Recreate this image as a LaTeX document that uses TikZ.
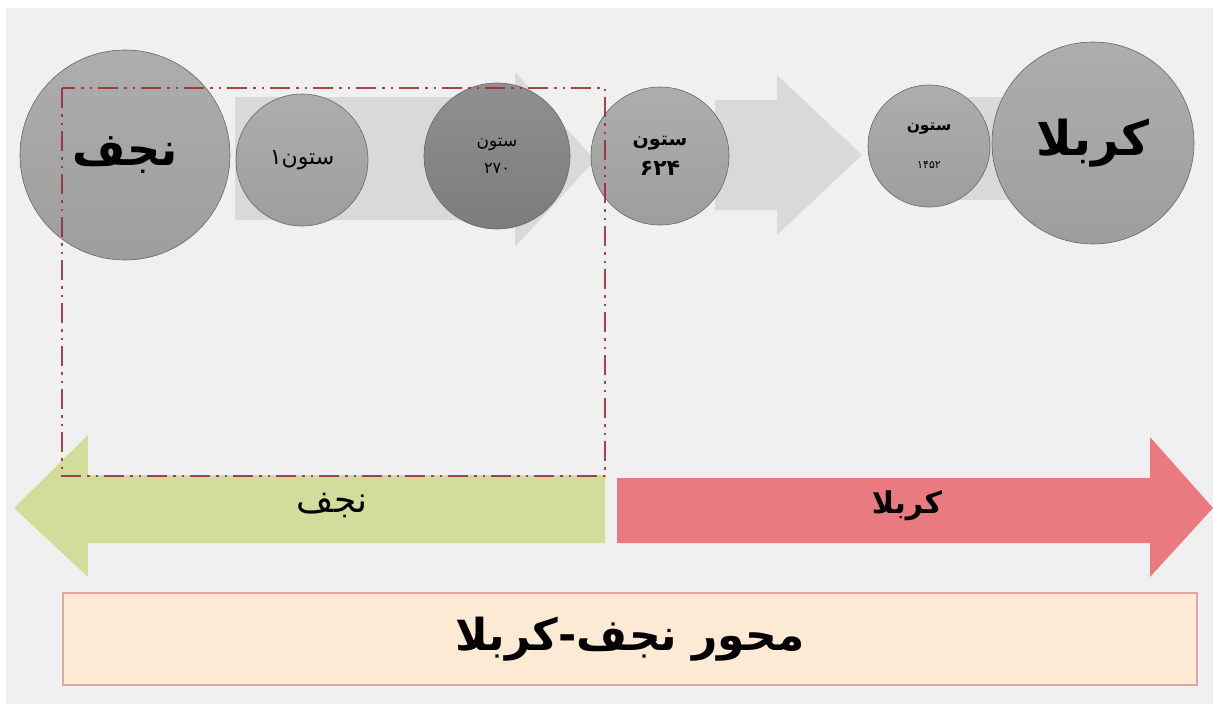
\documentclass[tikz,border=0pt]{standalone}
\usepackage{fontspec}
\newfontfamily\arabicfont[Script=Arabic]{DejaVu Sans}
\TeXXeTstate=1
\definecolor{bgc}{HTML}{F0F0F0}
\definecolor{flowc}{HTML}{D9D9D9}
\definecolor{ballc}{HTML}{A6A6A6}
\definecolor{balldark}{HTML}{8A8A8A}
\definecolor{greenc}{HTML}{D2DD9C}
\definecolor{redc}{HTML}{E97A80}
\definecolor{peach}{HTML}{FDEAD5}
\definecolor{peachline}{HTML}{E3A3A3}
\definecolor{dashc}{HTML}{9A2632}
\begin{document}
\begin{tikzpicture}[x=1pt,y=-1pt,
  bubble/.style={circle, draw=black!60, line width=0.6pt, inner sep=0pt,
    top color=ballc!92!white, bottom color=ballc!95!black, align=center,
    font=\arabicfont\bfseries},
  darkbubble/.style={bubble, top color=balldark!95!white, bottom color=balldark!90!black},
  flow/.style={fill=flowc, draw=none},
  dirgreen/.style={fill=greenc, draw=none},
  dirred/.style={fill=redc, draw=none},
  zone/.style={draw=dashc, draw opacity=0.85, line width=2.6pt,
    dash pattern=on 20pt off 6pt on 2.5pt off 6pt on 2.5pt off 6pt},
  titlebox/.style={draw=peachline, line width=1.2pt, fill=peach, minimum width=1134pt,
    minimum height=92pt, font=\arabicfont\bfseries\fontsize{44}{50}\selectfont}
]
% background
\fill[white] (0,0) rectangle (1213,704);
\fill[bgc] (6,8) rectangle (1213,704);
\useasboundingbox (0,0) rectangle (1213,704);

% grey flow arrows
\path[flow] (235,97) -- (515,97) -- (515,72) -- (595,160) -- (515,247) -- (515,220) -- (235,220) -- cycle;
\path[flow] (715,100) -- (777,100) -- (777,75) -- (862,155) -- (777,235) -- (777,210) -- (715,210) -- cycle;
\path[flow] (950,97) -- (1040,97) -- (1040,200) -- (950,200) -- cycle;

% circles
\node[bubble, minimum size=210pt] (najaf) at (125,155) {\fontsize{46}{50}\selectfont\beginR نجف\endR};
\node[bubble, minimum size=132pt] (s1) at (302,160) {\mdseries\fontsize{22}{24}\selectfont\beginR ستون۱\endR};
\node[darkbubble, minimum size=146pt] (s270) at (497,156) {\mdseries\fontsize{17}{20}\selectfont\beginR ستون\endR\\[12pt]\mdseries\fontsize{16}{20}\selectfont ۲۷۰};
\node[bubble, minimum size=138pt] (s624) at (660,156) {\fontsize{19}{22}\selectfont\beginR ستون\endR\\[10pt]\fontsize{22}{24}\selectfont ۶۲۴};
\node[bubble, minimum size=122pt] (s1452) at (929,146) {\fontsize{15.5}{18}\selectfont\beginR ستون\endR\\[26pt]\mdseries\fontsize{11}{14}\selectfont ۱۴۵۲};
\node[bubble, minimum size=202pt] (karbala) at (1093,143) {\fontsize{48}{52}\selectfont\beginR کربلا\endR};

% direction arrows
\path[dirgreen] (605,475) -- (88,475) -- (88,435) -- (14,508) -- (88,577) -- (88,543) -- (605,543) -- cycle;
\path[dirred] (617,478) -- (1150,478) -- (1150,437) -- (1213,508) -- (1150,577) -- (1150,543) -- (617,543) -- cycle;
\node[font=\arabicfont\fontsize{36}{40}\selectfont] (lnajaf) at (332,505) {\beginR نجف\endR};
\node[font=\arabicfont\bfseries\fontsize{30}{34}\selectfont] (lkarbala) at (907,506) {\beginR کربلا\endR};

% zone
\draw[zone] (62,88) rectangle (605,476);

% title
\node[titlebox] (title) at (630,639) {\beginR محور نجف-کربلا\endR};
\end{tikzpicture}
\end{document}
